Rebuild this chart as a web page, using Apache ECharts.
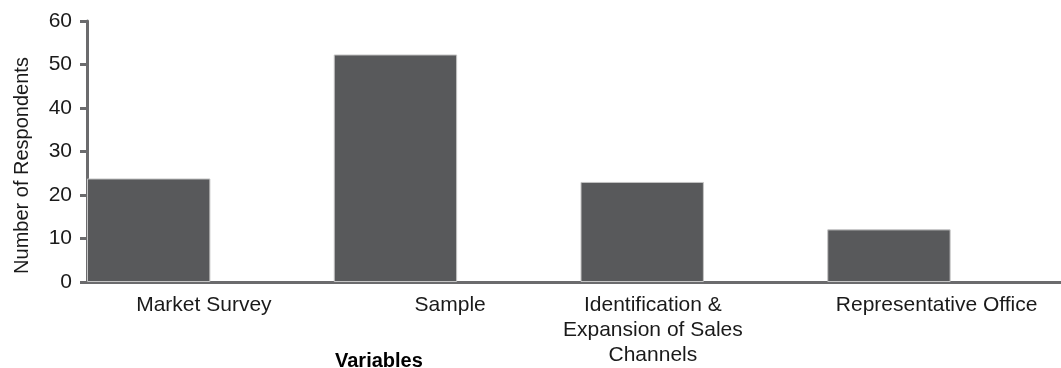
<!DOCTYPE html>
<html><head><meta charset="utf-8">
<script src="https://cdn.jsdelivr.net/npm/echarts@6/dist/echarts.min.js"></script>
<style>html,body{margin:0;padding:0;background:#fff;overflow:hidden}#c{width:1074px;height:368px}</style>
</head><body><div id="c"></div>
<script>
const categories = ['Market Survey', 'Sample', 'Identification &\nExpansion of Sales\nChannels', 'Representative Office'];
const respondents = [23.8, 52.3, 23.0, 12.1];
const yTicks = [0, 10, 20, 30, 40, 50, 60];
const labelShift = [13, 14, 102, 28];

const chart = echarts.init(document.getElementById('c'), null, {renderer: 'canvas'});
const font = '"Liberation Sans", Arial, sans-serif';
const axisColor = '#6b6b6d';
const textColor = '#1a1a1a';
chart.setOption({
  animation: false,
  grid: {left: 87, top: 21, height: 261, right: 0},
  xAxis: {
    type: 'category',
    data: categories.map((c, i) => ({value: c, textStyle: {padding: [0, labelShift[i], 0, 0]}})),
    boundaryGap: true,
    axisLine: {lineStyle: {color: axisColor, width: 3}},
    axisTick: {show: false},
    axisLabel: {color: textColor, fontFamily: font, fontSize: 21, margin: 11, lineHeight: 25, interval: 0}
  },
  yAxis: {
    type: 'value', min: yTicks[0], max: yTicks[yTicks.length - 1], interval: 10,
    name: 'Number of Respondents', nameLocation: 'middle', nameGap: 55, nameRotate: 90,
    nameTextStyle: {color: textColor, fontFamily: font, fontSize: 20, padding: [0, 28, 0, 0]},
    axisLine: {show: true, lineStyle: {color: axisColor, width: 3}},
    axisTick: {show: true, length: 7, lineStyle: {color: axisColor, width: 3}},
    splitLine: {show: false},
    axisLabel: {color: textColor, fontFamily: font, fontSize: 21, margin: 15}
  },
  graphic: [{type: 'text', left: 335, top: 351, style: {text: 'Variables', font: 'bold 20px "Liberation Sans", Arial, sans-serif', fill: '#000'}}],
  series: [
    {type: 'bar', data: respondents, barGap: '0%', barCategoryGap: '0%',
     itemStyle: {color: '#58595b', borderColor: '#c4c4c4', borderWidth: 1}},
    {type: 'bar', data: respondents.map(() => null), barGap: '0%', barCategoryGap: '0%'}
  ]
});
</script></body></html>
